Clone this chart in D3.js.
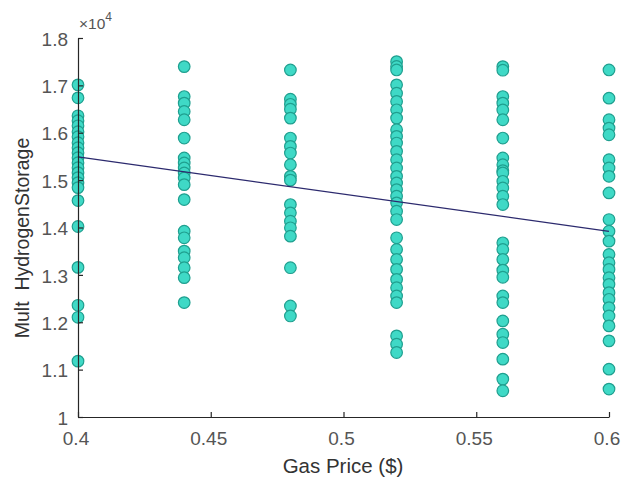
<!DOCTYPE html>
<html>
<head>
<meta charset="utf-8">
<script src="https://cdn.jsdelivr.net/npm/d3@7"></script>
<style>
  html, body { margin: 0; padding: 0; background: #fff; }
  svg { display: block; font-family: "Liberation Sans", Arial, sans-serif; }
</style>
</head>
<body>
<svg id="chart" width="621" height="481"></svg>
<script>
// Gas price levels sampled in the study
const gasPrices = [0.4, 0.44, 0.48, 0.52, 0.56, 0.6];

// Hydrogen storage multiplier observed at each gas price
const storageAt040 = [17011, 16737, 16358, 16253, 16147, 16021, 15916, 15789, 15684, 15579, 15474,
  15368, 15263, 15158, 15053, 14947, 14842, 14568, 14021, 13158, 12358, 12105, 11179];
const storageAt044 = [17396, 16764, 16625, 16449, 16274, 15888, 15467, 15362, 15256, 15151, 15046,
  14905, 14589, 13922, 13783, 13501, 13362, 13151, 12941, 12415];
const storageAt048 = [17326, 16709, 16600, 16498, 16309, 15888, 15712, 15572, 15326, 15080, 15000,
  14484, 14309, 14133, 13994, 13817, 13151, 12343, 12133];
const storageAt052 = [17501, 17400, 17326, 17011, 16835, 16660, 16484, 16309, 16063, 15923, 15783,
  15607, 15432, 15256, 15080, 14940, 14800, 14660, 14520, 14344, 14168, 13783, 13537, 13326, 13116,
  12905, 12730, 12554, 12415, 11712, 11537, 11362];
const storageAt056 = [17396, 17320, 16764, 16625, 16480, 16274, 15888, 15467, 15326, 15200, 15151,
  14975, 14835, 14660, 14484, 13677, 13537, 13326, 13100, 12950, 12554, 12415, 12028, 11747, 11572,
  11221, 10800, 10554];
const storageAt060 = [17326, 16730, 16274, 16098, 15958, 15432, 15256, 15080, 14730, 14168, 13922,
  13712, 13432, 13256, 13116, 12941, 12800, 12625, 12484, 12309, 12133, 11923, 11607, 11010, 10589];

const storageByPrice = [storageAt040, storageAt044, storageAt048, storageAt052, storageAt056, storageAt060];

// Linear fit evaluated at the ends of the price range
const fitPrices = [0.4, 0.6];
const fitValues = [15490, 13920];

const xTicks = [0.4, 0.45, 0.5, 0.55, 0.6];
const yTicks = [10000, 11000, 12000, 13000, 14000, 15000, 16000, 17000, 18000];

const svg = d3.select("#chart");
const plotLeft = 78, plotRight = 609, plotTop = 38, plotBottom = 417;

const x = d3.scaleLinear().domain([0.4, 0.6]).range([plotLeft, plotRight]);
const y = d3.scaleLinear().domain([10000, 18000]).range([plotBottom, plotTop]);

const points = [];
gasPrices.forEach((p, i) => storageByPrice[i].forEach(v => points.push({ p, v })));

// Scatter markers
svg.append("g")
  .selectAll("circle")
  .data(points)
  .join("circle")
  .attr("cx", d => x(d.p))
  .attr("cy", d => y(d.v))
  .attr("r", 5.8)
  .attr("fill", "#3fd9c6")
  .attr("stroke", "#1f9f8f")
  .attr("stroke-width", 1.2);

// Fitted trend line
svg.append("path")
  .datum(fitPrices.map((p, i) => ({ p, v: fitValues[i] })))
  .attr("fill", "none")
  .attr("stroke", "#2c2a6e")
  .attr("stroke-width", 1.3)
  .attr("d", d3.line().x(d => x(d.p)).y(d => y(d.v)));

// Axes with inward ticks
const xAxis = d3.axisBottom(x).tickValues(xTicks).tickSizeInner(-5).tickSizeOuter(0)
  .tickPadding(15).tickFormat(d3.format("~g"));
const yAxis = d3.axisLeft(y).tickValues(yTicks).tickSizeInner(-5).tickSizeOuter(0)
  .tickPadding(10).tickFormat(d => d3.format("~g")(d / 10000));

const gx = svg.append("g").attr("transform", `translate(0,${plotBottom})`).call(xAxis);
const gy = svg.append("g").attr("transform", `translate(${plotLeft},0)`).call(yAxis);

[gx, gy].forEach(g => {
  g.select(".domain").attr("stroke", "#262626").attr("stroke-width", 1.2);
  g.selectAll(".tick line").attr("stroke", "#262626").attr("stroke-width", 1.2);
  g.selectAll(".tick text").attr("fill", "#555").style("font-size", "19px")
    .style("font-family", "'Liberation Sans', Arial, sans-serif");
});
gy.selectAll(".tick text").attr("dy", "0.38em");
gx.selectAll(".tick text").attr("dx", -2.5);

// Exponent marker for the y axis
const expo = svg.append("text")
  .attr("x", 79).attr("y", 29)
  .attr("fill", "#555")
  .style("font-size", "15.5px");
expo.append("tspan").text("\u00d710");
expo.append("tspan").attr("dy", -8).style("font-size", "12px").text("4");

// Axis titles
svg.append("text")
  .attr("x", 343).attr("y", 473)
  .attr("text-anchor", "middle")
  .attr("fill", "#333")
  .style("font-size", "20.5px")
  .text("Gas Price ($)");

svg.append("text")
  .attr("transform", "translate(29,238) rotate(-90)")
  .attr("text-anchor", "middle")
  .attr("fill", "#333")
  .style("font-size", "19.5px")
  .style("white-space", "pre")
  .text("Mult  HydrogenStorage");
</script>
</body>
</html>
